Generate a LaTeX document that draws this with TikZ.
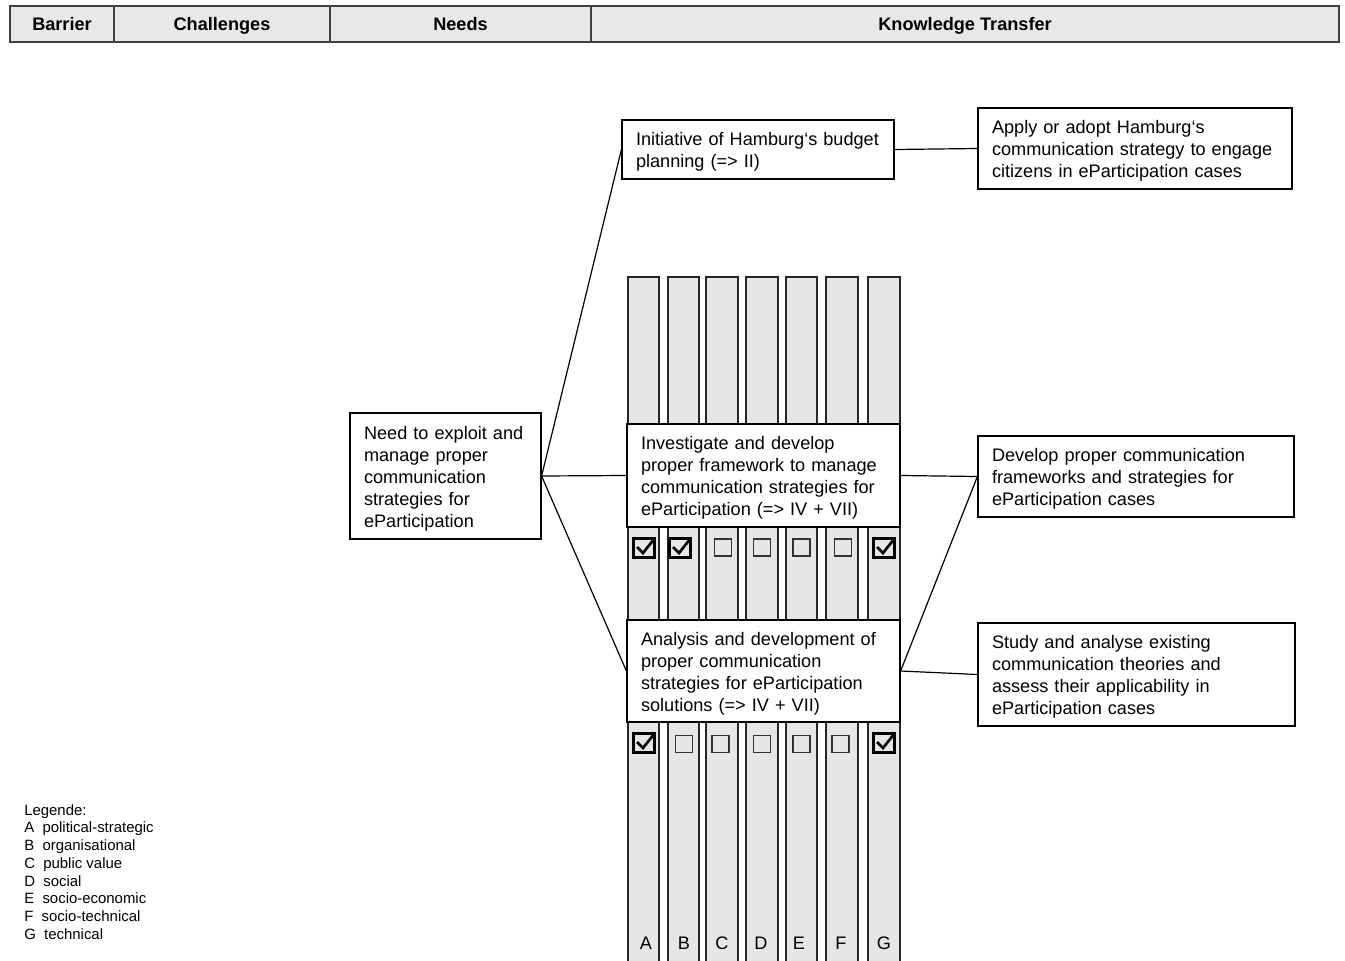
\documentclass[tikz,border=0pt]{standalone}
\usepackage{fontspec}
\setmainfont{Liberation Sans}
\definecolor{colgray}{HTML}{E6E6E6}
\definecolor{hdrgray}{HTML}{E8E8E8}
\begin{document}
\begin{tikzpicture}[x=0.75pt,y=-0.75pt,
  txt/.style={font=\fontsize{13.6}{16.5}\selectfont},
  box/.style={draw=black, line width=0.9pt, fill=white, align=left,
    inner xsep=10.5pt, inner ysep=0pt, txt,
    execute at begin node={\rule{0pt}{15pt}},
    execute at end node={\rule[-4pt]{0pt}{4pt}}},
  link/.style={line width=0.9pt, draw=black},
  colbar/.style={draw=black!85, line width=0.9pt, fill=colgray},
  hdrline/.style={draw=black!75, line width=1pt},
  hdrtext/.style={font=\fontsize{13.6}{16.5}\selectfont\bfseries, anchor=base, inner sep=0pt},
  letter/.style={font=\fontsize{13.6}{16.5}\selectfont},
  legendtext/.style={font=\fontsize{11.2}{13.3}\selectfont, align=left, inner sep=0pt},
  ticked/.pic={
    \draw[line width=1.7pt, fill=colgray] (-10.5,-9.5) rectangle (10.5,9.5);
    \draw[line width=2pt, line join=miter] (-7,-1) -- (-1,5) -- (10.5,-9.5);},
  unticked/.pic={
    \draw[line width=1.4pt, draw=black!80] (-8.5,-8.5) rectangle (8.5,8.5);}
]
\useasboundingbox (0,0) rectangle (1345,960);
\clip (0,0) rectangle (1345,960);

% header row
\draw[hdrline, fill=hdrgray] (10,6) rectangle (1339,42);
\foreach \xd in {114,330,591} \draw[hdrline] (\xd,6) -- (\xd,42);
\node[hdrtext] (hBarrier) at (62,30) {Barrier};
\node[hdrtext] (hChallenges) at (222,30) {Challenges};
\node[hdrtext] (hNeeds) at (460.5,30) {Needs};
\node[hdrtext] (hTransfer) at (965,30) {Knowledge Transfer};

% barrier category columns
\foreach \xa/\xb in {628/659, 668/699, 706/738, 746/778, 786/817, 826/858, 868/900}
  \path[colbar] (\xa,277) rectangle (\xb,975);
\foreach \l/\xl in {A/646, B/684, C/722, D/761, E/799, F/841, G/884}
  \node[letter] (lbl\l) at (\xl,943) {\l};

% need
\node[box, text width=122.25pt, minimum height=94.5pt] (need) at (445.5,476)
  {Need to exploit and\\manage proper\\communication\\strategies for\\eParticipation};

% challenges
\node[box, text width=183pt, minimum height=44.25pt] (init) at (758,149.5)
  {\mbox{Initiative of Hamburg‘s budget}\\planning (=> II)};
\node[box, text width=183.75pt, minimum height=77.25pt] (invest) at (763.5,475.5)
  {Investigate and develop\\proper framework to manage\\communication strategies for\\eParticipation (=> IV + VII)};
\node[box, text width=183.75pt, minimum height=76.5pt] (analysis) at (763.5,671)
  {Analysis and development of\\proper communication\\strategies for eParticipation\\solutions (=> IV + VII)};

% knowledge transfer
\node[box, text width=214.5pt, minimum height=60.75pt] (apply) at (1135,148.5)
  {Apply or adopt Hamburg‘s\\communication strategy to engage\\citizens in eParticipation cases};
\node[box, text width=216pt, minimum height=60.75pt] (develop) at (1136,476.5)
  {Develop proper communication\\frameworks and strategies for\\eParticipation cases};
\node[box, text width=216.75pt, minimum height=77.25pt] (study) at (1136.5,674.5)
  {Study and analyse existing\\communication theories and\\assess their applicability in\\eParticipation cases};

% category check boxes
\pic at (644,548) {ticked};
\pic at (680,548) {ticked};
\pic at (884,548) {ticked};
\foreach \xc in {723,762,801.5,843} \pic at (\xc,547.5) {unticked};
\pic at (644,743) {ticked};
\pic at (884,743) {ticked};
\foreach \xc in {684,720.5,762,801.5,840.5} \pic at (\xc,744) {unticked};

% connectors
\draw[link] (need.east) -- (init.west);
\draw[link] (need.east) -- (invest.west);
\draw[link] (need.east) -- (analysis.west);
\draw[link] (init.east) -- (apply.west);
\draw[link] (invest.east) -- (develop.west);
\draw[link] (develop.west) -- (analysis.east);
\draw[link] (analysis.east) -- (study.west);

% legend
\node[legendtext, anchor=north west] (legend) at (24,804)
  {Legende:\\A~~political-strategic\\B~~organisational\\C~~public value\\D~~social\\E~~socio-economic\\F~~socio-technical\\G~~technical};
\end{tikzpicture}
\end{document}
